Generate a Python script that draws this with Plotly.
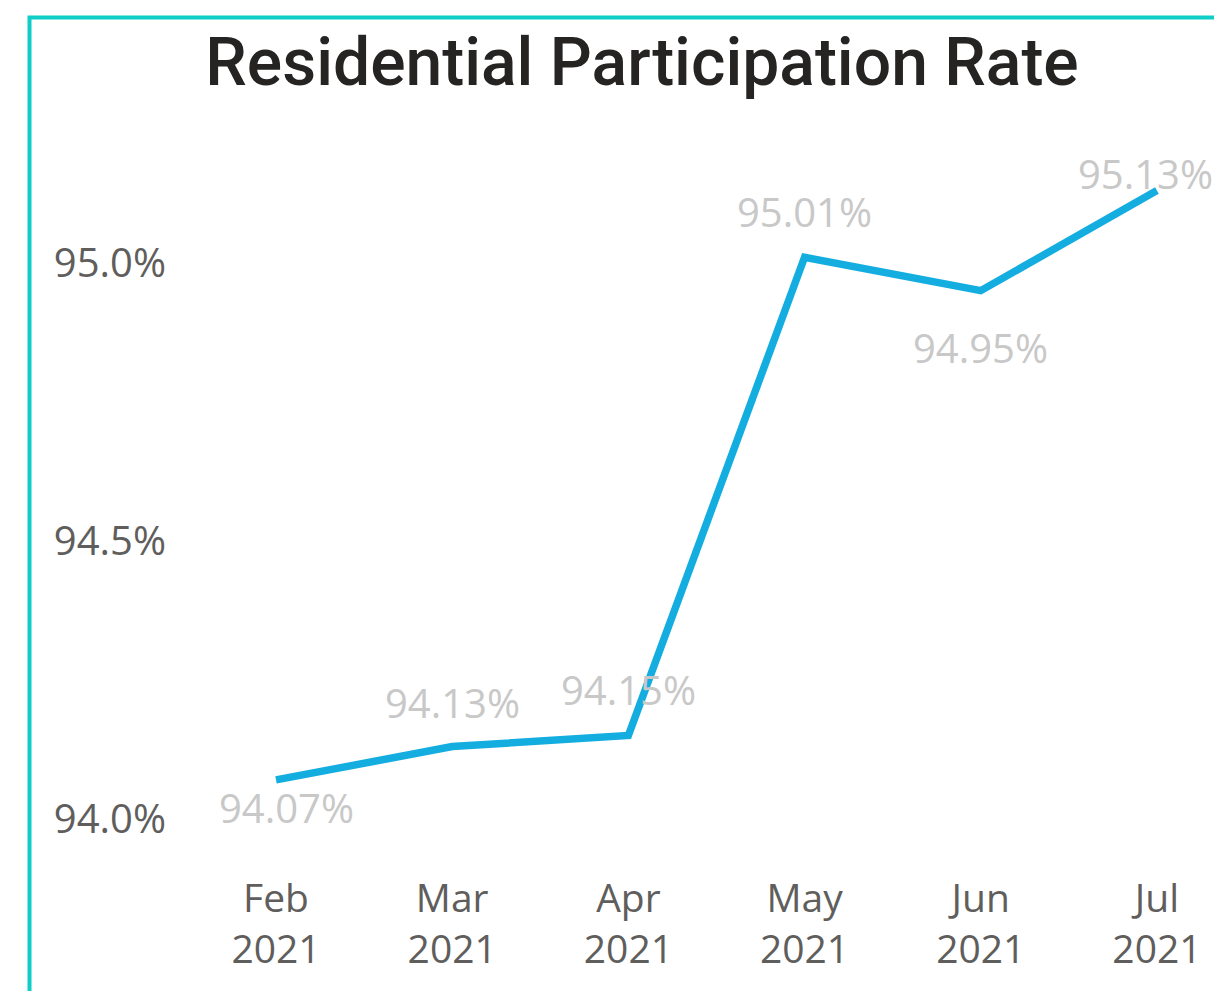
import plotly.graph_objects as go

months = ["Feb", "Mar", "Apr", "May", "Jun", "Jul"]
years = ["2021"] * 6
rates = [94.07, 94.13, 94.15, 95.01, 94.95, 95.13]
label_text = ["94.07%", "94.13%", "94.15%", "95.01%", "94.95%", "95.13%"]
y_tickvals = [94.0, 94.5, 95.0]
y_ticktext = ["94.0%", "94.5%", "95.0%"]

# label placement (pixels): (xshift, yshift)
label_offsets = [(10, -28), (0, 44), (0, 46), (0, 46), (0, -57), (-11, 17)]

W, H = 1214, 991
L, R, T, B = 180, 0, 130, 131
plot_h = H - T - B
plot_w = W - L - R

xidx = list(range(len(months)))
cats = [f"{m}<br>{y}" for m, y in zip(months, years)]

fig = go.Figure()
fig.add_trace(go.Scatter(
    x=xidx, y=rates, mode="lines",
    line=dict(color="#14ADE0", width=7.5),
    hoverinfo="skip",
))

for i, (v, t) in enumerate(zip(rates, label_text)):
    dx, dy = label_offsets[i]
    fig.add_annotation(x=i, y=v, text=t, showarrow=False,
                       xshift=dx, yshift=dy,
                       font=dict(family="Open Sans, Noto Sans, sans-serif", size=40, color="#C8C8C8"))

def px_to_paper_x(px):
    return (px - L) / plot_w

def px_to_paper_y(py):
    return (H - B - py) / plot_h

# teal frame (left and top edges)
fig.add_shape(type="path",
              path=f"M {px_to_paper_x(29.5)},{px_to_paper_y(1000)} L {px_to_paper_x(29.5)},{px_to_paper_y(17.5)} L {px_to_paper_x(1230)},{px_to_paper_y(17.5)}",
              xref="paper", yref="paper",
              line=dict(color="#0FCEC8", width=4))

fig.update_layout(
    width=W, height=H,
    margin=dict(l=L, r=R, t=T, b=B),
    paper_bgcolor="white", plot_bgcolor="white",
    showlegend=False,
    title=dict(text="Residential Participation Rate",
               x=642 / W, xanchor="center",
               y=1 - 62 / H, yanchor="middle",
               font=dict(family="Roboto, sans-serif", size=66, weight=500, color="#252423")),
    xaxis=dict(
        tickmode="array", tickvals=xidx, ticktext=cats,
        range=[-0.545, 5.324],
        showgrid=False, zeroline=False, showline=False,
        ticks="outside", ticklen=4, tickcolor="rgba(0,0,0,0)",
        tickfont=dict(family="Open Sans, Noto Sans, sans-serif", size=39, color="#605E5C"),
    ),
    yaxis=dict(
        tickmode="array", tickvals=y_tickvals, ticktext=y_ticktext,
        range=[93.926, 95.239],
        showgrid=False, zeroline=False, showline=False,
        ticks="outside", ticklen=5, tickcolor="rgba(0,0,0,0)",
        tickfont=dict(family="Open Sans, Noto Sans, sans-serif", size=40, color="#605E5C"),
    ),
)

fig.write_html("out.html", config={"displayModeBar": False},
               post_script="document.body.style.margin='0';document.body.style.overflow='hidden';")
